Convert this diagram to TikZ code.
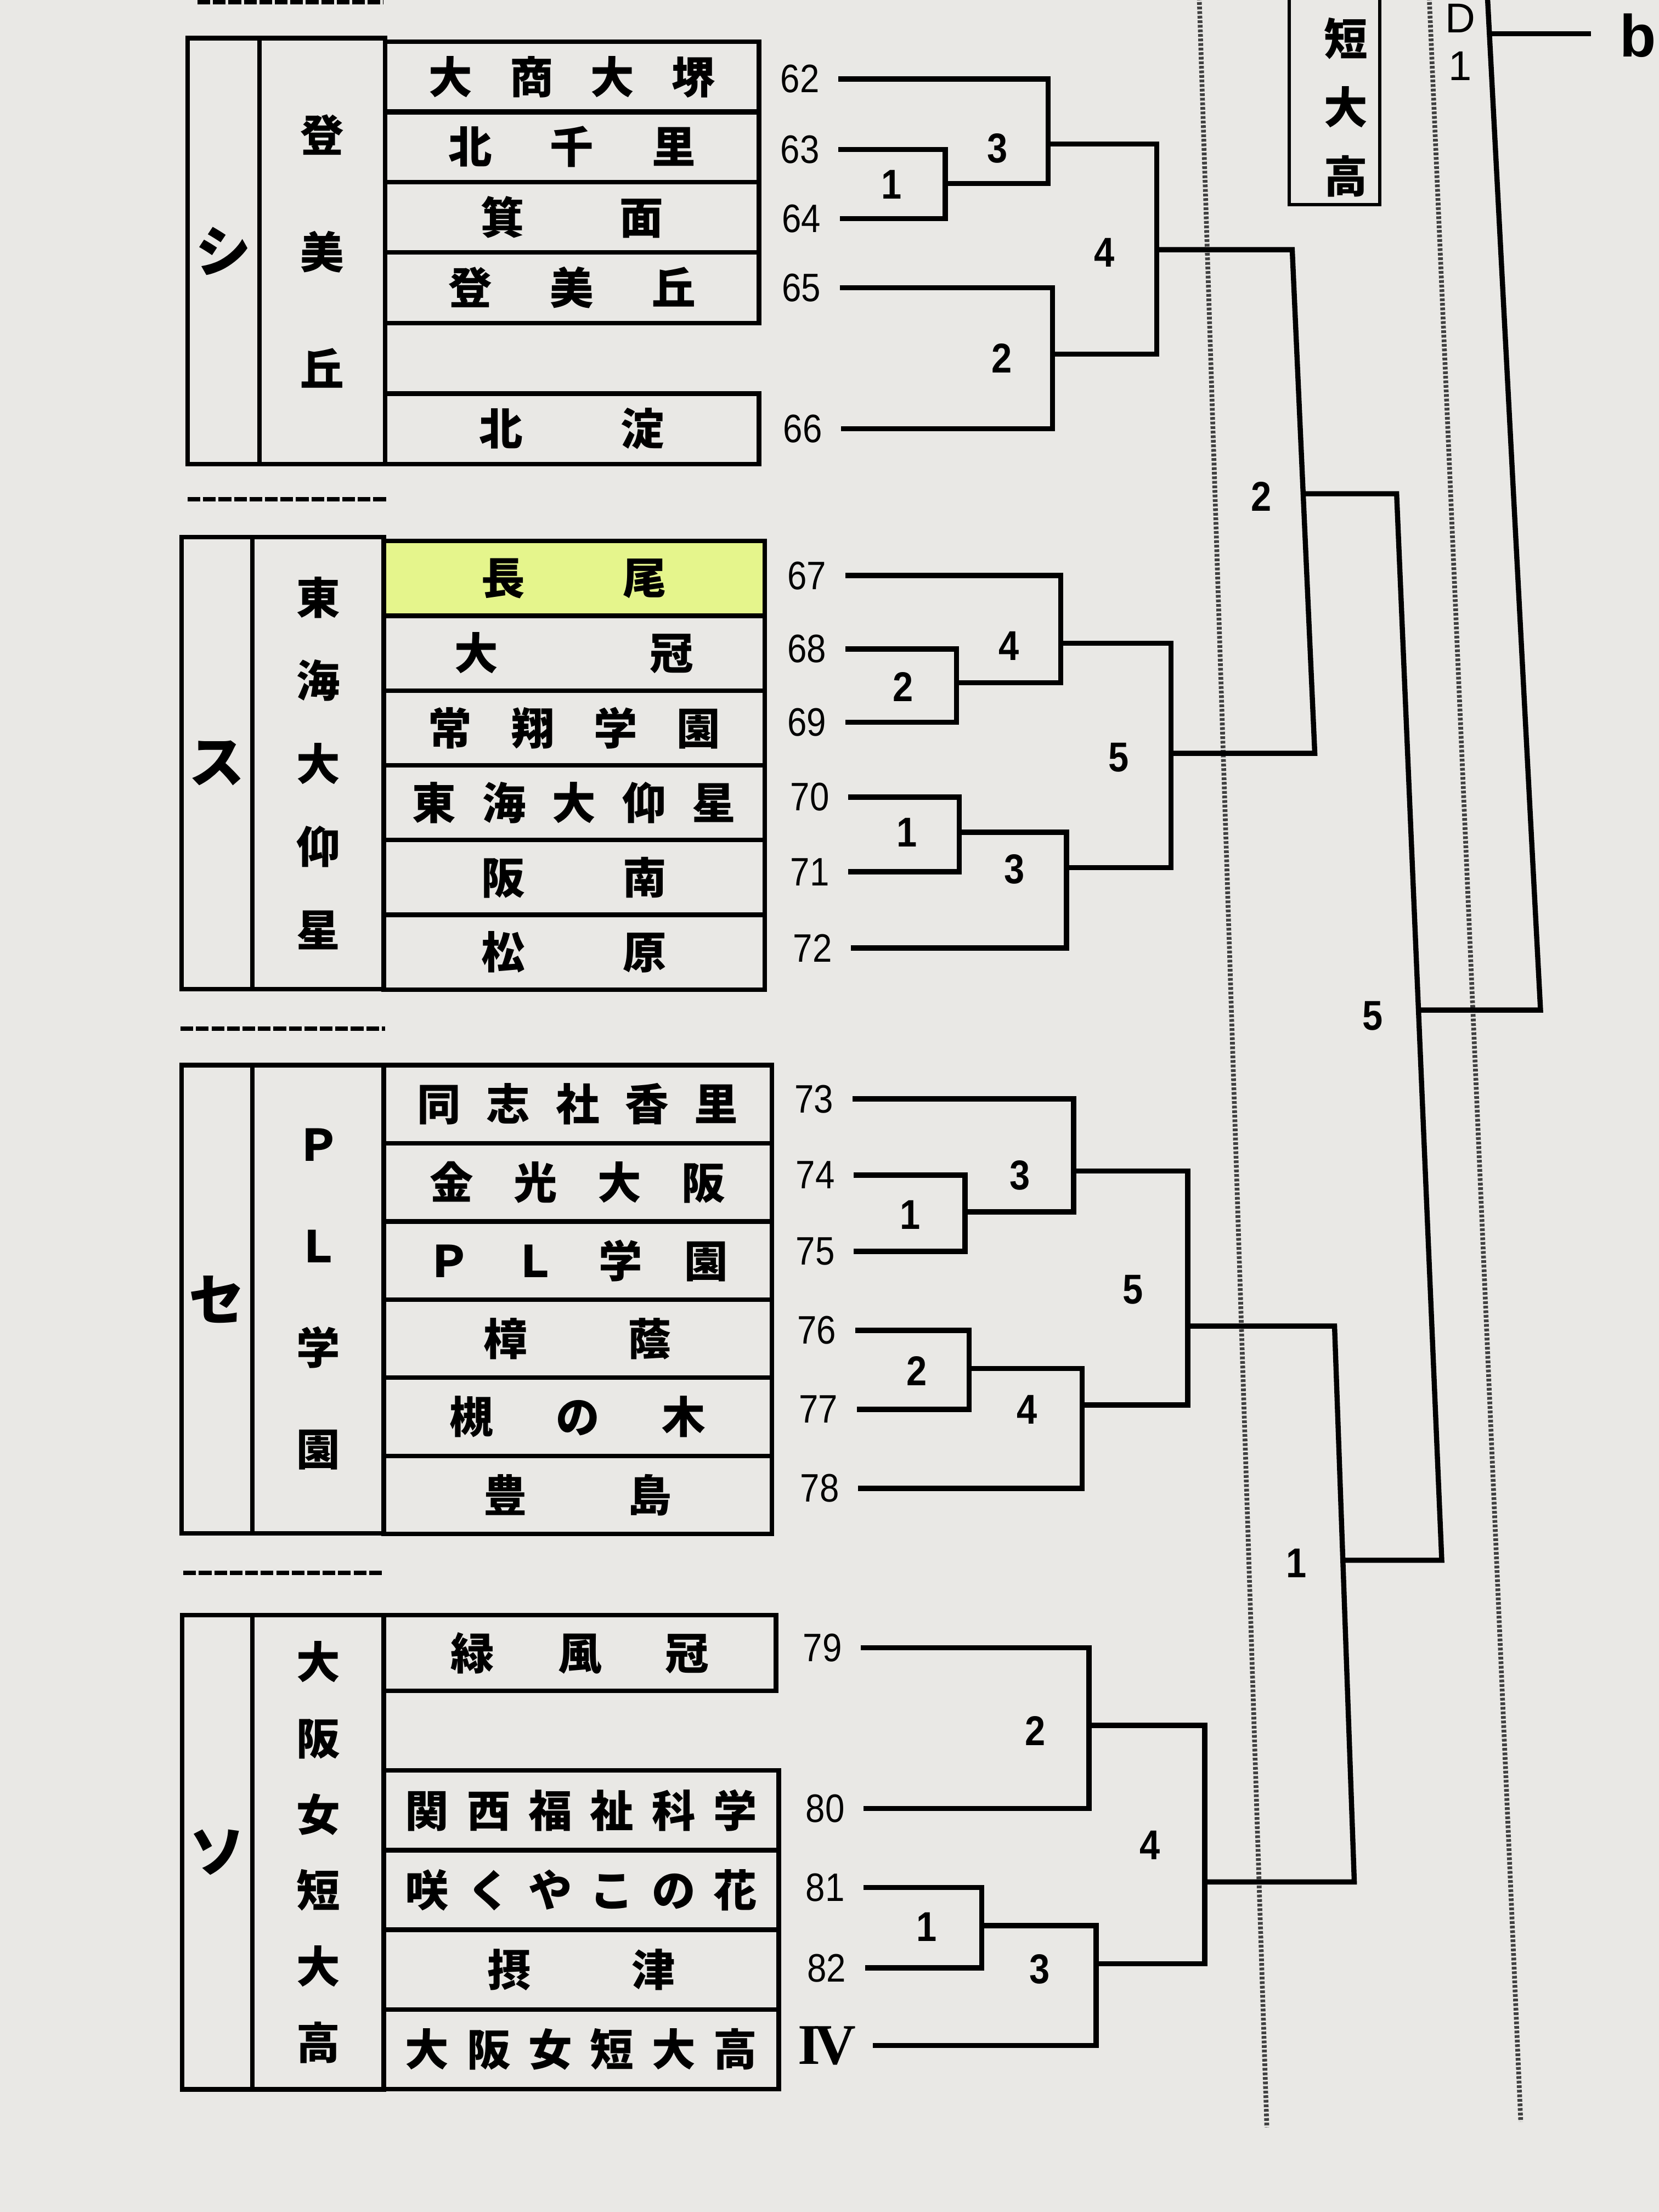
\documentclass[tikz,border=0pt]{standalone}
\usepackage{fontspec}
\setmainfont{Liberation Sans}
\newfontfamily\jp{Noto Sans CJK JP}
\newfontfamily\romf{Liberation Serif}
\newfontfamily\numf[FakeStretch=0.88]{Liberation Sans}
\newcommand\jtxt{\jp\bfseries\fontsize{22pt}{26pt}\selectfont}
\newcommand\gtxt[1]{\jp\bfseries\fontsize{22pt}{#1}\selectfont}
\newcommand\ktxt{\jp\bfseries\fontsize{28pt}{30pt}\selectfont}
\newcommand\spr[2]{\makebox[#1][s]{#2}}
\definecolor{paper}{RGB}{233,232,229}
\definecolor{marker}{RGB}{229,245,140}

\begin{document}
\begin{tikzpicture}[x=0.025cm, y=-0.025cm,
    team/.style={draw, line width=2.3pt, inner sep=0pt, font=\jtxt},
    colbox/.style={draw, line width=2.3pt, inner sep=0pt, align=center},
    numlab/.style={inner xsep=0.33cm, inner ysep=0pt, font=\numf\fontsize{20pt}{22pt}\selectfont},
    mlab/.style={inner sep=0pt, font=\numf\bfseries\fontsize{21pt}{24pt}\selectfont},
    br/.style={line width=2.6pt},
    sepline/.style={line width=2.2pt, dash pattern=on 6.4pt off 1.4pt},
    guideline/.style={line width=2.4pt, black!75, dash pattern=on 1.4pt off 0.9pt}
]
\useasboundingbox (0,0) rectangle (1176,1568);
\fill[paper] (0,0) rectangle (1176,1568);
\clip (0,0) rectangle (1176,1568);

% Guide lines
\draw[guideline] (850,-5) -- (898,1508);
\draw[guideline] (1013,-5) -- (1078,1504);
\draw[sepline] (140,1.5) -- (272,1.5);
\draw[sepline] (133,354) -- (274,354);
\draw[sepline] (128,729) -- (273,729);
\draw[sepline] (130,1115) -- (271,1115);

% Block shi
\node[colbox, minimum width=1.275cm, minimum height=7.55cm, font=\ktxt] (kshi) at (158.5,178) {シ};
\node[colbox, minimum width=2.225cm, minimum height=7.55cm, font=\gtxt{58.9pt}] (gshi) at (228.5,178) {登\\美\\丘};
\node[team, minimum width=6.625cm, minimum height=1.25cm] (t62) at (405.5,54.5) {\spr{5.08cm}{大\hfill 商\hfill 大\hfill 堺}};
\node[team, minimum width=6.625cm, minimum height=1.25cm] (t63) at (405.5,104) {\spr{4.38cm}{北\hfill 千\hfill 里}};
\node[team, minimum width=6.625cm, minimum height=1.25cm] (t64) at (405.5,154) {\spr{3.23cm}{箕\hfill 面}};
\node[team, minimum width=6.625cm, minimum height=1.25cm] (t65) at (405.5,204) {\spr{4.38cm}{登\hfill 美\hfill 丘}};
\node[team, minimum width=6.625cm, minimum height=1.25cm] (t66) at (405.5,304) {\spr{3.28cm}{北\hfill 淀}};

% Block su
\node[colbox, minimum width=1.26cm, minimum height=8.01cm, font=\ktxt] (ksu) at (153.8,541) {ス};
\node[colbox, minimum width=2.325cm, minimum height=8.01cm, font=\gtxt{41.9pt}] (gsu) at (225.5,541) {東\\海\\大\\仰\\星};
\node[team, fill=marker, minimum width=6.75cm, minimum height=1.325cm] (t67) at (407,410) {\spr{3.28cm}{長\hfill 尾}};
\node[team, minimum width=6.75cm, minimum height=1.325cm] (t68) at (407,463) {\spr{4.23cm}{大\hfill 冠}};
\node[team, minimum width=6.75cm, minimum height=1.325cm] (t69) at (407,516) {\spr{5.18cm}{常\hfill 翔\hfill 学\hfill 園}};
\node[team, minimum width=6.75cm, minimum height=1.325cm] (t70) at (407,569) {\spr{5.73cm}{東\hfill 海\hfill 大\hfill 仰\hfill 星}};
\node[team, minimum width=6.75cm, minimum height=1.325cm] (t71) at (407,622) {\spr{3.28cm}{阪\hfill 南}};
\node[team, minimum width=6.75cm, minimum height=1.325cm] (t72) at (407,675) {\spr{3.28cm}{松\hfill 原}};

% Block se
\node[colbox, minimum width=1.26cm, minimum height=8.3cm, font=\ktxt] (kse) at (153.8,921) {セ};
\node[colbox, minimum width=2.325cm, minimum height=8.3cm, font=\gtxt{51.2pt}] (gse) at (225.5,921) {Ｐ\\Ｌ\\学\\園};
\node[team, minimum width=6.875cm, minimum height=1.385cm] (t73) at (409.5,782.7) {\spr{5.68cm}{同\hfill 志\hfill 社\hfill 香\hfill 里}};
\node[team, minimum width=6.875cm, minimum height=1.385cm] (t74) at (409.5,838.1) {\spr{5.23cm}{金\hfill 光\hfill 大\hfill 阪}};
\node[team, minimum width=6.875cm, minimum height=1.385cm] (t75) at (409.5,893.5) {\spr{5.33cm}{Ｐ\hfill Ｌ\hfill 学\hfill 園}};
\node[team, minimum width=6.875cm, minimum height=1.385cm] (t76) at (409.5,948.9) {\spr{3.33cm}{樟\hfill 蔭}};
\node[team, minimum width=6.875cm, minimum height=1.385cm] (t77) at (409.5,1004.3) {\spr{4.53cm}{槻\hfill の\hfill 木}};
\node[team, minimum width=6.875cm, minimum height=1.385cm] (t78) at (409.5,1059.7) {\spr{3.33cm}{豊\hfill 島}};

% Block so
\node[colbox, minimum width=1.25cm, minimum height=8.4cm, font=\ktxt] (kso) at (154,1313) {ソ};
\node[colbox, minimum width=2.325cm, minimum height=8.4cm, font=\gtxt{38.4pt}] (gso) at (225.5,1313) {大\\阪\\女\\短\\大\\高};
\node[team, minimum width=6.95cm, minimum height=1.3375cm] (t79) at (411,1171.75) {\spr{4.58cm}{緑\hfill 風\hfill 冠}};
\node[team, minimum width=7.0cm, minimum height=1.41cm] (t80) at (412,1283.25) {\spr{6.23cm}{関\hfill 西\hfill 福\hfill 祉\hfill 科\hfill 学}};
\node[team, minimum width=7.0cm, minimum height=1.41cm] (t81) at (412,1339.75) {\spr{6.23cm}{咲\hfill く\hfill や\hfill こ\hfill の\hfill 花}};
\node[team, minimum width=7.0cm, minimum height=1.41cm] (t82) at (412,1396.25) {\spr{3.33cm}{摂\hfill 津}};
\node[team, minimum width=7.0cm, minimum height=1.41cm] (tIV) at (412,1452.75) {\spr{6.23cm}{大\hfill 阪\hfill 女\hfill 短\hfill 大\hfill 高}};

% Draw numbers
\node[numlab] (n62) at (567,56) {62};
\node[numlab] (n63) at (567,106) {63};
\node[numlab] (n64) at (568,155) {64};
\node[numlab] (n65) at (568,204) {65};
\node[numlab] (n66) at (569,304) {66};
\node[numlab] (n67) at (572,408) {67};
\node[numlab] (n68) at (572,460) {68};
\node[numlab] (n69) at (572,512) {69};
\node[numlab] (n70) at (574,565) {70};
\node[numlab] (n71) at (574,618) {71};
\node[numlab] (n72) at (576,672) {72};
\node[numlab] (n73) at (577,779) {73};
\node[numlab] (n74) at (578,833) {74};
\node[numlab] (n75) at (578,887) {75};
\node[numlab] (n76) at (579,943) {76};
\node[numlab] (n77) at (580,999) {77};
\node[numlab] (n78) at (581,1055) {78};
\node[numlab] (n79) at (583,1168) {79};
\node[numlab] (n80) at (585,1282) {80};
\node[numlab] (n81) at (585,1338) {81};
\node[numlab] (n82) at (586,1395) {82};
\node[numlab, inner xsep=0.3cm, font=\romf\bfseries\fontsize{29pt}{30pt}\selectfont] (nIV) at (586,1450) {I\kern-3pt V};

% Match points
\coordinate (s1) at (670,130);
\coordinate (s3) at (743,102);
\coordinate (s2) at (746,251);
\coordinate (s4) at (820,177);
\coordinate (u2) at (678,484);
\coordinate (u4) at (752,456);
\coordinate (u1) at (680,590);
\coordinate (u3) at (756,615);
\coordinate (u5) at (830,534);
\coordinate (v1) at (684,859);
\coordinate (v3) at (761,830);
\coordinate (v2) at (687,970);
\coordinate (v4) at (767,996);
\coordinate (v5) at (842,940);
\coordinate (w2) at (772,1223);
\coordinate (w1) at (696,1365);
\coordinate (w3) at (777,1392);
\coordinate (w4) at (854,1334);
\coordinate (r2t) at (916,177);
\coordinate (r2b) at (932,534);
\coordinate (r2o) at (924,350);
\coordinate (r1t) at (946,940);
\coordinate (r1b) at (960,1334);
\coordinate (r1o) at (952,1106);
\coordinate (r5t) at (990,350);
\coordinate (r5b) at (1022,1106);
\coordinate (r5o) at (1006,716);
\coordinate (d1b) at (1092,716);
\coordinate (d1t) at (1054,-10);
\coordinate (d1h) at (1056,24);

% Brackets
\draw[br] (n63.east) -| (s1) |- (n64.east);
\draw[br] (n62.east) -| (s3) |- (s1);
\draw[br] (n65.east) -| (s2) |- (n66.east);
\draw[br] (s3) -| (s4) |- (s2);
\draw[br] (n68.east) -| (u2) |- (n69.east);
\draw[br] (n67.east) -| (u4) |- (u2);
\draw[br] (n70.east) -| (u1) |- (n71.east);
\draw[br] (u1) -| (u3) |- (n72.east);
\draw[br] (u4) -| (u5) |- (u3);
\draw[br] (n74.east) -| (v1) |- (n75.east);
\draw[br] (n73.east) -| (v3) |- (v1);
\draw[br] (n76.east) -| (v2) |- (n77.east);
\draw[br] (v2) -| (v4) |- (n78.east);
\draw[br] (v3) -| (v5) |- (v4);
\draw[br] (n79.east) -| (w2) |- (n80.east);
\draw[br] (n81.east) -| (w1) |- (n82.east);
\draw[br] (w1) -| (w3) |- (nIV.east);
\draw[br] (w2) -| (w4) |- (w3);
\draw[br] (s4) -- (r2t) -- (r2b) -- (u5);
\draw[br] (v5) -- (r1t) -- (r1b) -- (w4);
\draw[br] (r2o) -- (r5t) -- (r5b) -- (r1o);
\draw[br] (r5o) -- (d1b) -- (d1t);

% Match labels
\node[mlab] (s1l) at (632,131) {1};
\node[mlab] (s3l) at (707,105) {3};
\node[mlab] (s2l) at (710,254) {2};
\node[mlab] (s4l) at (783,179) {4};
\node[mlab] (u2l) at (640,487) {2};
\node[mlab] (u4l) at (715,458) {4};
\node[mlab] (u1l) at (643,590) {1};
\node[mlab] (u3l) at (719,616) {3};
\node[mlab] (u5l) at (793,537) {5};
\node[mlab] (v1l) at (645,861) {1};
\node[mlab] (v3l) at (723,833) {3};
\node[mlab] (v5l) at (803,914) {5};
\node[mlab] (v2l) at (650,972) {2};
\node[mlab] (v4l) at (728,999) {4};
\node[mlab] (w2l) at (734,1227) {2};
\node[mlab] (w4l) at (815,1308) {4};
\node[mlab] (w1l) at (657,1366) {1};
\node[mlab] (w3l) at (737,1396) {3};
\node[mlab] (r2l) at (894,352) {2};
\node[mlab] (r5l) at (973,720) {5};
\node[mlab] (r1l) at (919,1108) {1};

% Next column
\node[draw, line width=1.6pt, minimum width=1.6cm, minimum height=4.0cm] (tbox) at (946,65) {};
\node[align=center, inner sep=0pt, font=\gtxt{34.7pt}] (ttxt) at (954,76) {短\\大\\高};
\node[align=center, inner sep=0pt, font=\fontsize{21pt}{24pt}\selectfont] (dlab) at (1035,30) {D\\1};
\node[inner xsep=0.5cm, font=\bfseries\fontsize{30pt}{32pt}\selectfont] (bnd) at (1161,25) {b};
\draw[br] (d1h) -- (d1h -| bnd.west);
\end{tikzpicture}
\end{document}
